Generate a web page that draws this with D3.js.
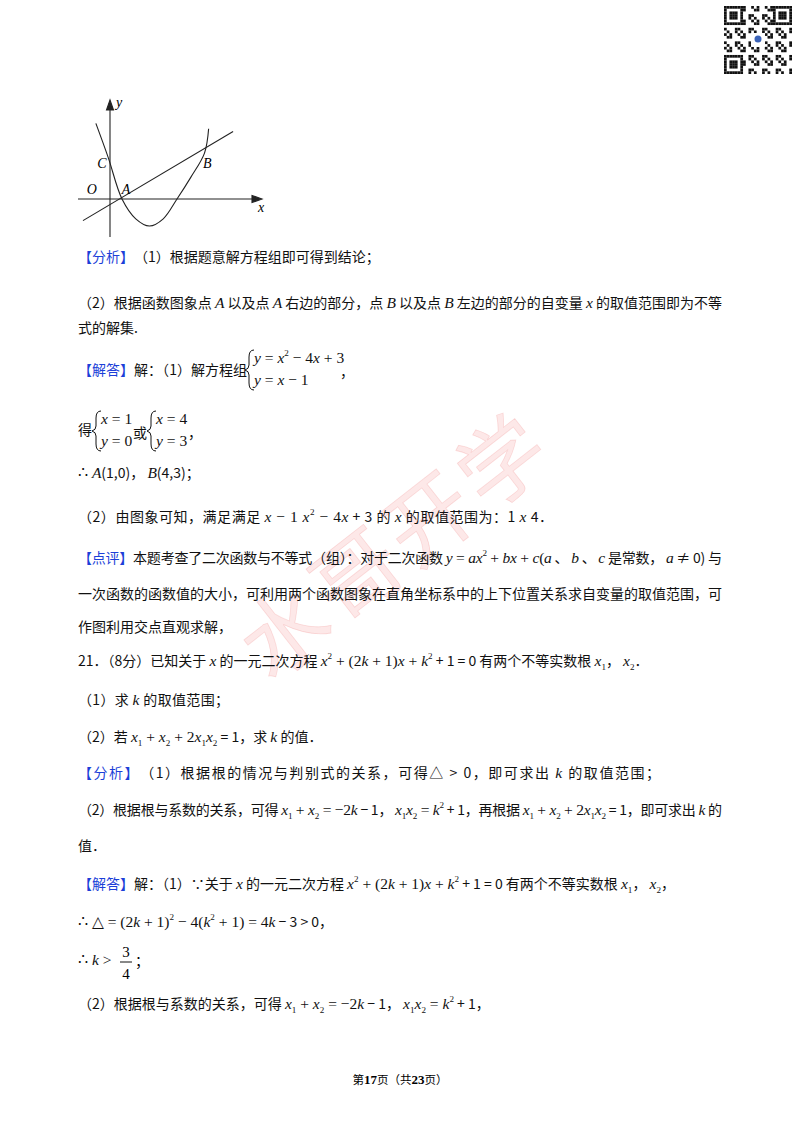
<!DOCTYPE html>
<html><head><meta charset="utf-8">
<script src="https://cdn.jsdelivr.net/npm/d3@7"></script>
<style>body{margin:0;background:#fff}</style></head>
<body><svg id="page" width="800" height="1132"></svg>
<script>
// points (parabola and the straight line), figure units
var parabolaPts = [[0.05,4.2],[0.5,2.3],[1,0],[1.5,-1.1],[2,-1.5],[2.5,-1.1],[3,0],[3.5,1.2],[4,2.55],[4.15,3.9]];
var linePts = [[-0.42,-1.2],[5.04,3.75]];
var pointLabels = [{t:"C",x:0.27,y:1.75},{t:"B",x:4.1,y:1.7},{t:"A",x:1.15,y:0.3},{t:"O",x:-0.1,y:0.3}];

// text lines: [y baseline, markup, end x when stretched]
// _x_ italic, ^2^ sup, ~1~ sub, [[..]] blue
var lines = [
  [262,"[[【分析】]]（1）根据题意解方程组即可得到结论；",null],
  [308,"（2）根据函数图象点 _A_ 以及点 _A_ 右边的部分，点 _B_ 以及点 _B_ 左边的部分的自变量 _x_ 的取值范围即为不等",722],
  [333,"式的解集.",null],
  [375,"[[【解答】]]解：（1）解方程组",247],
  [435,"得",null],
  [478,"∴ _A_(1,0)， _B_(4,3)；",null],
  [522,"（2）由图象可知，满足满足 _x_ − 1  _x_^2^ − 4_x_ + 3 的 _x_ 的取值范围为：1  _x_  4．",553],
  [563,"[[【点评】]]本题考查了二次函数与不等式（组）：对于二次函数 _y_ = _ax_^2^ + _bx_ + _c_(_a_ 、 _b_ 、 _c_ 是常数， _a_ ≠ 0) 与",722],
  [599,"一次函数的函数值的大小，可利用两个函数图象在直角坐标系中的上下位置关系求自变量的取值范围，可",722],
  [632,"作图利用交点直观求解，",null],
  [666,"21．（8分）已知关于 _x_ 的一元二次方程 _x_^2^ + (2_k_ + 1)_x_ + _k_^2^ + 1 = 0 有两个不等实数根 _x_~1~， _x_~2~．",null],
  [705,"（1）求 _k_ 的取值范围；",229],
  [742,"（2）若 _x_~1~ + _x_~2~ + 2_x_~1~_x_~2~ = 1，求 _k_ 的值．",null],
  [778,"[[【分析】]]（1）根据根的情况与判别式的关系，可得△ > 0，即可求出 _k_ 的取值范围；",660],
  [815,"（2）根据根与系数的关系，可得 _x_~1~ + _x_~2~ = −2_k_ − 1， _x_~1~_x_~2~ = _k_^2^ + 1，再根据 _x_~1~ + _x_~2~ + 2_x_~1~_x_~2~ = 1，即可求出 _k_ 的",722],
  [851,"值．",null],
  [889,"[[【解答】]]解：（1）∵关于 _x_ 的一元二次方程 _x_^2^ + (2_k_ + 1)_x_ + _k_^2^ + 1 = 0 有两个不等实数根 _x_~1~， _x_~2~，",null],
  [927,"∴ △ = (2_k_ + 1)^2^ − 4(_k_^2^ + 1) = 4_k_ − 3 > 0，",null],
  [965,"∴ _k_ >",null],
  [1009,"（2）根据根与系数的关系，可得 _x_~1~ + _x_~2~ = −2_k_ − 1， _x_~1~_x_~2~ = _k_^2^ + 1，",null]
];
// equation systems: [x of brace, top line y, top text, bottom text, trailing text, trailing x]
var systems = [
  [249,363,"_y_ = _x_^2^ − 4_x_ + 3","_y_ = _x_ − 1","，",340],
  [96,424,"_x_ = 1","_y_ = 0","或",133],
  [151,424,"_x_ = 4","_y_ = 3","，",188]
];

var cjk = "'Noto Sans CJK SC', sans-serif";
var serif = "'Liberation Serif', 'DejaVu Serif', serif";
var svg = d3.select("#page");

function write(g, x, y, markup, size) {
  size = size || 14;
  var t = g.append("text").attr("x", x).attr("y", y).attr("font-size", size)
      .attr("font-family", cjk).attr("fill", "#111");
  markup.split(/(\[\[.*?\]\]|_[^_]+_|\^[^^]+\^|~[^~]+~)/).forEach(function (s) {
    if (!s) return;
    var sp = t.append("tspan").attr("y", y);
    if (s.indexOf("[[") === 0) {
      sp.text(s.slice(2, -2)).attr("fill", "#1c3fd8");
    } else if (s[0] === "_") {
      sp.text(s.slice(1, -1)).attr("font-family", serif).attr("font-style", "italic").attr("font-size", size + 1.5);
    } else if (s[0] === "^") {
      sp.text(s.slice(1, -1)).attr("font-family", serif).attr("font-size", size * 0.65).attr("y", y - 7);
    } else if (s[0] === "~") {
      sp.text(s.slice(1, -1)).attr("font-family", serif).attr("font-size", size * 0.65).attr("y", y + 4);
    } else if (/[\u4e00-\u9fff（）【】，；：、．]/.test(s)) {
      sp.text(s);
    } else {
      sp.text(s).attr("font-family", serif).attr("font-size", size + 1.5);
    }
  });
  return t;
}

// watermark
svg.append("text").attr("transform", "translate(415,570) rotate(-38)")
  .attr("text-anchor", "middle").attr("font-family", cjk).attr("font-size", 86)
  .attr("fill", "rgba(240,110,110,0.16)").attr("stroke", "rgba(235,90,90,0.18)").attr("stroke-width", 0.8)
  .attr("letter-spacing", 6).text("水哥开学");

// QR-ish code block
var qr = svg.append("g").attr("transform", "translate(724,6)");
var n = 25, cs = 2.72;
for (var i = 0; i < n; i++) for (var j = 0; j < n; j++) {
  var finder = (i < 7 && j < 7) || (i < 7 && j >= n - 7) || (i >= n - 7 && j < 7);
  var on;
  if (finder) {
    var a = i >= n - 7 ? i - (n - 7) : i, b = j >= n - 7 ? j - (n - 7) : j;
    on = (a === 0 || a === 6 || b === 0 || b === 6 || (a >= 2 && a <= 4 && b >= 2 && b <= 4));
  } else on = ((i * 7 + j * 13 + i * j) % 5) < 2;
  if (on) qr.append("rect").attr("x", j * cs).attr("y", i * cs).attr("width", cs).attr("height", cs).attr("fill", "#111");
}
qr.append("rect").attr("x", 27).attr("y", 27).attr("width", 14).attr("height", 14).attr("fill", "#fff");
qr.append("circle").attr("cx", 34).attr("cy", 33).attr("r", 3.5).attr("fill", "#3a63b8");

// figure
var fx = d3.scaleLinear().domain([1, 3]).range([122, 177]);
var fy = d3.scaleLinear().domain([0, 1]).range([199, 181]);
var fig = svg.append("g").attr("stroke", "#222").attr("fill", "none").attr("stroke-width", 1.1);
fig.append("line").attr("x1", 78).attr("x2", 258).attr("y1", fy(0)).attr("y2", fy(0));
fig.append("path").attr("d", "M262,199 L252,195.5 L252,202.5 Z").attr("fill", "#222");
fig.append("line").attr("x1", 110).attr("x2", 110).attr("y1", 237).attr("y2", 104);
fig.append("path").attr("d", "M110,100 L106.5,110 L113.5,110 Z").attr("fill", "#222");
var curve = d3.line().x(function (d) { return fx(d[0]); }).y(function (d) { return fy(d[1]); }).curve(d3.curveCatmullRom);
fig.append("path").attr("d", curve(parabolaPts));
fig.append("path").attr("d", d3.line().x(function (d) { return fx(d[0]); }).y(function (d) { return fy(d[1]); })(linePts));
pointLabels.forEach(function (p) {
  svg.append("text").attr("x", fx(p.x)).attr("y", fy(p.y)).attr("font-family", serif)
    .attr("font-style", "italic").attr("font-size", 14).attr("text-anchor", "middle").text(p.t);
});
svg.append("text").attr("x", 116).attr("y", 107).attr("font-family", serif).attr("font-style", "italic").attr("font-size", 14).text("y");
svg.append("text").attr("x", 258).attr("y", 212).attr("font-family", serif).attr("font-style", "italic").attr("font-size", 14).text("x");

// body text
var body = svg.append("g");
lines.forEach(function (l) {
  var t = write(body, 78, l[0], l[1]);
  if (l[2]) t.attr("textLength", l[2] - 78).attr("lengthAdjust", "spacing");
});
systems.forEach(function (s) {
  var x = s[0], y = s[1];
  body.append("path").attr("fill", "none").attr("stroke", "#111").attr("stroke-width", 1)
    .attr("d", "M" + (x + 5) + "," + (y - 13) + " Q" + x + "," + (y - 13) + " " + x + "," + (y - 6) +
      " L" + x + "," + (y + 2) + " Q" + x + "," + (y + 6) + " " + (x - 4) + "," + (y + 7) +
      " Q" + x + "," + (y + 8) + " " + x + "," + (y + 12) + " L" + x + "," + (y + 20) +
      " Q" + x + "," + (y + 27) + " " + (x + 5) + "," + (y + 27));
  write(body, x + 5, y, s[2]);
  write(body, x + 5, y + 22, s[3]);
  if (s[4]) write(body, s[5], y + 14, s[4]);
});
// fraction 3/4
body.append("text").attr("x", 126).attr("y", 957).attr("font-family", serif).attr("font-size", 15).attr("text-anchor", "middle").text("3");
body.append("line").attr("x1", 120).attr("x2", 132).attr("y1", 962).attr("y2", 962).attr("stroke", "#111");
body.append("text").attr("x", 126).attr("y", 979).attr("font-family", serif).attr("font-size", 15).attr("text-anchor", "middle").text("4");
body.append("text").attr("x", 135).attr("y", 966).attr("font-family", cjk).attr("font-size", 14).text("；");

// footer
var ft = svg.append("text").attr("x", 400).attr("y", 1084).attr("text-anchor", "middle")
  .attr("font-family", cjk).attr("font-size", 11.5);
ft.append("tspan").text("第");
ft.append("tspan").attr("font-weight", "bold").attr("font-family", serif).attr("font-size", 13).text("17");
ft.append("tspan").text("页（共");
ft.append("tspan").attr("font-weight", "bold").attr("font-family", serif).attr("font-size", 13).text("23");
ft.append("tspan").text("页）");
</script></body></html>
